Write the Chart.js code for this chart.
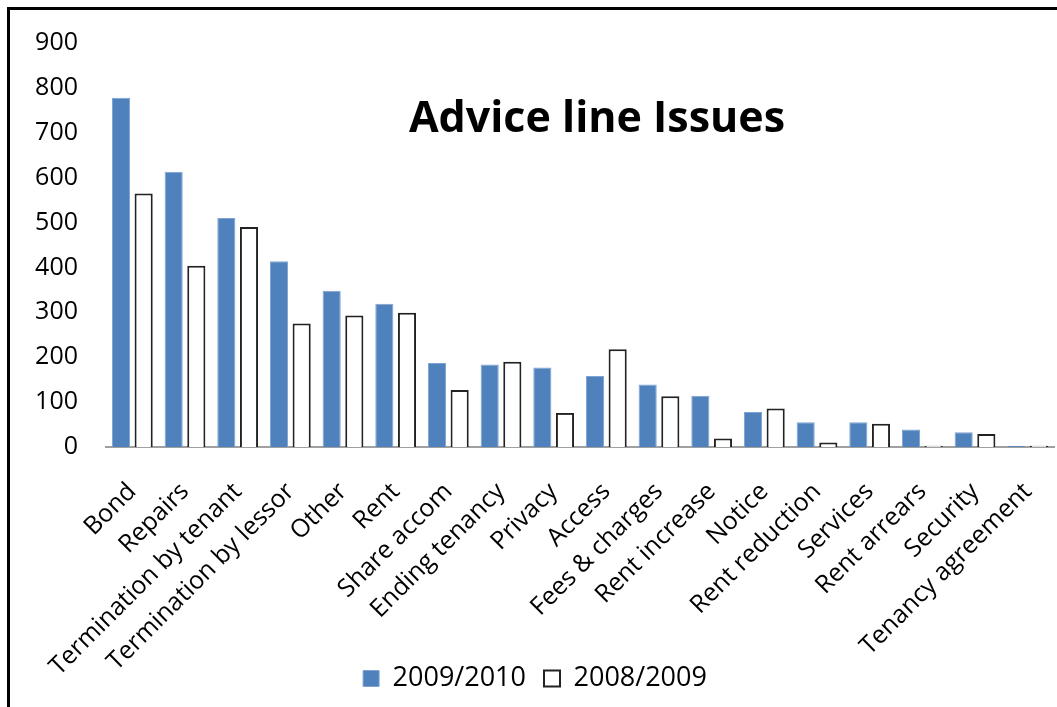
<!DOCTYPE html>
<html>
<head>
<meta charset="utf-8">
<script src="https://cdn.jsdelivr.net/npm/chart.js@4.4.1/dist/chart.umd.min.js"></script>
<style>
  body { margin: 0; background: #fff; overflow: hidden; }
  #wrap { position: relative; width: 1057px; height: 707px; overflow: hidden; }
  #frame { position: absolute; left: 7px; top: 7px; width: 1050px; height: 700px;
           border-left: 3px solid #000; border-top: 3px solid #000; box-sizing: border-box; }
  canvas { position: absolute; left: 0; top: 0; }
</style>
</head>
<body>
<div id="wrap">
  <div id="frame"></div>
  <canvas id="issuesChart" width="1057" height="707"></canvas>
</div>
<script>
const categories = [
    'Bond', 'Repairs', 'Termination by tenant', 'Termination by lessor', 'Other',
    'Rent', 'Share accom', 'Ending tenancy', 'Privacy', 'Access', 'Fees & charges',
    'Rent increase', 'Notice', 'Rent reduction', 'Services', 'Rent arrears',
    'Security', 'Tenancy agreement'
];
const issues2009_2010 = [778, 613, 510, 414, 348, 319, 187, 184, 177, 158, 139, 114, 78, 55, 55, 39, 33, 3];
const issues2008_2009 = [565, 404, 490, 275, 293, 299, 127, 190, 76, 218, 113, 19, 86, 10, 52, 3, 29, 3];
const yTicks = [0, 100, 200, 300, 400, 500, 600, 700, 800, 900];

const labelFont = { family: "'Open Sans', sans-serif", size: 25 };

// title sits inside the plot area, like the original
const insideTitle = {
    id: 'insideTitle',
    afterDraw(chart) {
        const ctx = chart.ctx;
        ctx.save();
        ctx.font = "bold 43px 'Open Sans', sans-serif";
        ctx.fillStyle = '#000';
        ctx.textAlign = 'center';
        ctx.textBaseline = 'alphabetic';
        ctx.fillText('Advice line Issues', 597, 132);
        ctx.restore();
    }
};

// fixed legend height so the plot bottom lands where it should,
// and let the long rotated labels run past the axis box
const layoutTweaks = {
    id: 'layoutTweaks',
    beforeInit(chart) {
        const fit = chart.legend.fit;
        chart.legend.fit = function () {
            fit.bind(this)();
            this.height = 60;
        };
    },
    beforeDraw(chart) {
        chart.scales.x._computeLabelArea = () => undefined;
    }
};

const ctx = document.getElementById('issuesChart').getContext('2d');

let chart = new Chart(ctx, {
    type: 'bar',
    data: {
        labels: categories,
        datasets: [{
            label: '2009/2010',
            data: issues2009_2010,
            backgroundColor: '#4F81BD',
            borderColor: '#7FA3D2',
            borderWidth: 1
        }, {
            label: '2008/2009',
            data: issues2008_2009,
            backgroundColor: '#ffffff',
            borderColor: '#222222',
            borderWidth: 2
        }]
    },
    options: {
        responsive: false,
        animation: false,
        categoryPercentage: 0.86,
        barPercentage: 0.8,
        layout: { padding: { left: 16, right: 3, top: 42, bottom: 0 } },
        plugins: {
            legend: {
                position: 'bottom',
                labels: {
                    font: { family: "'Open Sans', sans-serif", size: 27 },
                    color: '#000',
                    boxWidth: 16,
                    boxHeight: 16,
                    padding: 18
                }
            },
            tooltip: { enabled: false }
        },
        scales: {
            x: {
                grid: { display: false, drawTicks: false },
                border: { display: true, color: '#a0a0a0', width: 2 },
                ticks: {
                    font: labelFont,
                    color: '#000',
                    maxRotation: 45,
                    minRotation: 45,
                    autoSkip: false,
                    padding: 30
                },
                afterFit(scale) {
                    scale.height = 200;
                    scale.paddingLeft = 0;
                    scale.paddingRight = 0;
                }
            },
            y: {
                min: 0,
                max: 900,
                grid: { display: false, drawTicks: false },
                border: { display: false },
                afterBuildTicks(scale) {
                    scale.ticks = yTicks.map(v => ({ value: v }));
                },
                ticks: {
                    font: labelFont,
                    color: '#000',
                    padding: 28
                },
                afterFit(scale) { scale.width = 90; }
            }
        }
    },
    plugins: [insideTitle, layoutTweaks]
});
</script>
</body>
</html>
